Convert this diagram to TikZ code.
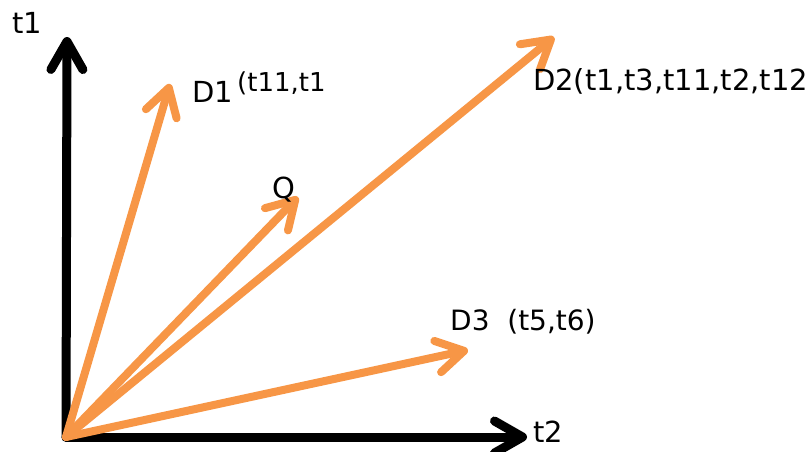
\documentclass[tikz,border=0pt]{standalone}
\usepackage{fontspec}
\setmainfont{DejaVu Sans}
\usepackage{xcolor}
\usepackage{tikz}
\usetikzlibrary{arrows.meta, positioning}
\definecolor{vecorange}{RGB}{247,150,70}

\tikzset{
  axis/.style={line width=9pt, line cap=round, -{Straight Barb[round, length=28pt, width=32pt]}},
  docvec/.style={vecorange, line width=8pt, line cap=round, -{Straight Barb[round, length=27pt, width=32pt]}},
  term/.style={anchor=base west, inner sep=0pt, font=\fontsize{29}{34}\selectfont},
  smallterm/.style={term, font=\fontsize{26}{31}\selectfont},
}

\begin{document}
\begin{tikzpicture}[x=1pt, y=-1pt]
  \useasboundingbox (0,0) rectangle (812,451);
  % term axes
  \coordinate (O) at (66,437);
  \coordinate (t1end) at (67,37);
  \coordinate (t2end) at (527,437);
  \draw[axis] (O) -- (t1end);
  \draw[axis] (O) -- (t2end);
  \node[term] (t1) at (12,33) {t1};
  \node[term] (t2) at (533,442) {t2};

  % documents and query
  \coordinate (d1) at (170,84);
  \coordinate (q) at (298,197);
  \coordinate (d2) at (554,37);
  \coordinate (d3) at (468,350);
  \draw[docvec] (O) -- (d1);
  \draw[docvec] (O) -- (q);
  \draw[docvec] (O) -- (d2);
  \draw[docvec] (O) -- (d3);

  \node[term] (d1lbl) at (192,102) {D1};
  \node[smallterm] (d1terms) at (237,91) {(t11,t1};
  \node[term] (qlbl) at (272,198) {Q};
  \node[term] (d2lbl) at (533,90) {D2(t1,t3,t11,t2,t12};
  \node[term, font=\fontsize{28}{33}\selectfont] (d3lbl) at (450,330) {D3~~(t5,t6)};
\end{tikzpicture}
\end{document}
